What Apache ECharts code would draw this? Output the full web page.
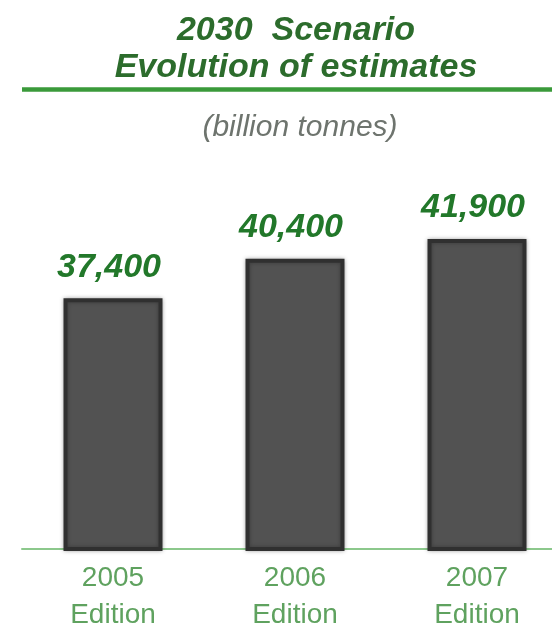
<!DOCTYPE html>
<html>
<head>
<meta charset="utf-8">
<script src="https://cdn.jsdelivr.net/npm/echarts@6/dist/echarts.min.js"></script>
<style>
  html, body { margin: 0; padding: 0; background: #fff; }
  #chart { width: 552px; height: 627px; }
</style>
</head>
<body>
<div id="chart"></div>
<script>
// Editions of the 2030 scenario and their estimates (billion tonnes)
const editions = ['2005\nEdition', '2006\nEdition', '2007\nEdition'];
const estimates = [37400, 40400, 41900];

const titleGreen = '#2c6c2c';
const valueGreen = '#22782a';
const font = 'Liberation Sans, Arial, sans-serif';

const chart = echarts.init(document.getElementById('chart'));
chart.setOption({
  backgroundColor: '#ffffff',
  animation: false,
  title: [
    {
      text: '2030  Scenario\nEvolution of estimates',
      left: 291, top: 7, textAlign: 'center',
      textStyle: {
        fontFamily: font,
        fontSize: 34, fontWeight: 'bold', fontStyle: 'italic',
        color: titleGreen, lineHeight: 37
      }
    },
    {
      text: '(billion tonnes)',
      left: 295, top: 108, textAlign: 'center',
      textStyle: {
        fontFamily: font,
        fontSize: 30, fontWeight: 'normal', fontStyle: 'italic',
        color: '#6e746e'
      }
    }
  ],
  graphic: [
    {
      type: 'line',
      shape: { x1: 22, y1: 89.5, x2: 552, y2: 89.5 },
      style: { stroke: '#3a9a3a', lineWidth: 4.5 }
    }
  ],
  // the plot area runs past the right edge of the canvas, so the last bar sits close to it
  grid: { left: 22, width: 546, top: 132, bottom: 78, outerBoundsMode: 'none', containLabel: false },
  xAxis: {
    type: 'category',
    data: editions,
    axisLine: { show: true, lineStyle: { color: '#8cc88c', width: 2 } },
    axisTick: { show: false },
    axisLabel: {
      margin: 11,
      fontFamily: font,
      fontSize: 28, lineHeight: 37,
      color: '#5fa25f'
    }
  },
  yAxis: {
    type: 'value',
    min: 18400, max: 50000,
    show: false,
    splitLine: { show: false }
  },
  series: [{
    type: 'bar',
    data: estimates,
    barWidth: 99,
    itemStyle: {
      color: '#525252',
      borderColor: '#303030',
      borderWidth: 4,
      shadowColor: 'rgba(0,0,0,0.3)',
      shadowBlur: 4
    },
    label: {
      show: true,
      position: 'top',
      distance: 14,
      offset: [-4, 0],
      formatter: p => p.value.toLocaleString('en-US'),
      fontFamily: font,
      fontSize: 34, fontWeight: 'bold', fontStyle: 'italic',
      color: valueGreen
    }
  }]
});
</script>
</body>
</html>
